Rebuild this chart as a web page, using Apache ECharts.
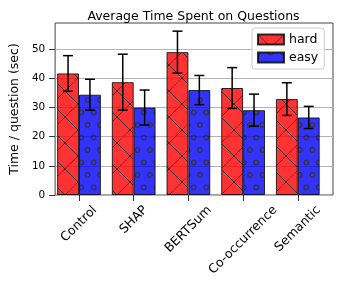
<!DOCTYPE html>
<html><head><meta charset="utf-8">
<script src="https://cdn.jsdelivr.net/npm/echarts@6/dist/echarts.min.js"></script>
<style>html,body{margin:0;padding:0;background:#fff}#c{width:340px;height:282px}</style>
</head><body><div id="c"></div>
<script>
const categories = ['Control', 'SHAP', 'BERTSum', 'Co-occurrence', 'Semantic'];
const hardMean = [41.7, 38.7, 49.0, 36.7, 32.9];
const hardErr  = [6.1, 9.6, 7.2, 7.0, 5.6];
const easyMean = [34.4, 30.0, 36.0, 29.1, 26.6];
const easyErr  = [5.3, 6.0, 5.0, 5.5, 3.8];
const yTicks = [0, 10, 20, 30, 40, 50];
const yMax = 59;

const FONT = '"DejaVu Sans", sans-serif';

function hatchX(fill) {
  const P = 26, c = document.createElement('canvas');
  c.width = P; c.height = P;
  const g = c.getContext('2d');
  g.fillStyle = fill; g.fillRect(0, 0, P, P);
  g.strokeStyle = '#000'; g.lineWidth = 1;
  g.beginPath();
  for (let k = -1; k <= 1; k++) {
    g.moveTo(k * P, 0); g.lineTo(k * P + P, P);
    g.moveTo(k * P, P); g.lineTo(k * P + P, 0);
  }
  g.stroke();
  return c;
}
function hatchO(fill) {
  const S = 25, c = document.createElement('canvas');
  c.width = S; c.height = S;
  const g = c.getContext('2d');
  g.fillStyle = fill; g.fillRect(0, 0, S, S);
  g.strokeStyle = '#000'; g.lineWidth = 1.3;
  const h = S / 2, q = S / 4;
  const pts = [[0, 0], [h, 0], [S, 0], [0, S], [h, S], [S, S], [q, h], [3 * q, h]];
  pts.forEach(p => { g.beginPath(); g.arc(p[0], p[1], 2.3, 0, Math.PI * 2); g.stroke(); });
  return c;
}

const mctx = document.createElement('canvas').getContext('2d');
mctx.font = '12.5px ' + FONT;

const chart = echarts.init(document.getElementById('c'), null, {renderer: 'canvas'});

function errItem(sign, errArr) {
  return function (params, api) {
    const i = params.dataIndex;
    const m = api.value(1), e = errArr[i];
    const band = api.size([1, 0])[0];
    const x = api.coord([i, m])[0] + sign * band * 0.2;
    const yHi = api.coord([i, m + e])[1];
    const yLo = api.coord([i, m - e])[1];
    const st = {stroke: '#000', lineWidth: 1.5};
    return {type: 'group', children: [
      {type: 'line', shape: {x1: x, y1: yHi, x2: x, y2: yLo}, style: st},
      {type: 'line', shape: {x1: x - 5, y1: yHi, x2: x + 5, y2: yHi}, style: st},
      {type: 'line', shape: {x1: x - 5, y1: yLo, x2: x + 5, y2: yLo}, style: st}
    ]};
  };
}

chart.setOption({
  animation: false,
  title: {
    text: 'Average Time Spent on Questions',
    left: 188.5, textAlign: 'center', top: 5,
    textStyle: {fontSize: 12.5, fontWeight: 'normal', fontFamily: FONT, color: '#000'}
  },
  legend: {
    data: ['hard', 'easy'], orient: 'vertical', left: 252, top: 28,
    itemWidth: 26, itemHeight: 10, itemGap: 5, icon: 'rect',
    textStyle: {fontSize: 12.5, fontFamily: FONT, color: '#000'},
    backgroundColor: 'rgba(255,255,255,0.8)', borderColor: '#cccccc', borderWidth: 1,
    borderRadius: 3, padding: [5, 6, 5, 5]
  },
  grid: [
    {left: 51.65, right: 14.85, top: 23, bottom: 87},
    {left: 44, right: 7, top: 23, bottom: 87, show: true, borderColor: '#444', borderWidth: 1, backgroundColor: 'transparent'}
  ],
  xAxis: [
    {type: 'category', gridIndex: 0, data: categories,
     axisLine: {show: false},
     axisTick: {show: true, alignWithLabel: true, length: 6, interval: 0, lineStyle: {color: '#333'}},
     axisLabel: {show: false}},
    {type: 'value', gridIndex: 1, show: false, min: 0, max: 1}
  ],
  yAxis: [
    {type: 'value', gridIndex: 0, show: false, min: 0, max: yMax},
    {type: 'value', gridIndex: 1, min: 0, max: yMax, interval: 10,
     name: 'Time / question (sec)', nameLocation: 'middle', nameGap: 25.5,
     nameTextStyle: {fontSize: 12.5, fontFamily: FONT, color: '#000'},
     axisLine: {show: false},
     axisTick: {show: true, length: 6, customValues: yTicks, lineStyle: {color: '#333'}},
     axisLabel: {customValues: yTicks, fontSize: 10.4, fontFamily: FONT, color: '#000', margin: 10},
     splitLine: {show: true, lineStyle: {color: '#b4b4b4', width: 1}}}
  ],
  series: [
    {name: 'hard', type: 'bar', xAxisIndex: 0, yAxisIndex: 0, data: hardMean,
     barWidth: '40%', barGap: '0%',
     itemStyle: {color: {image: hatchX('#ff0000'), repeat: 'repeat'}, borderColor: '#000', borderWidth: 1, opacity: 0.8},
     emphasis: {disabled: true}},
    {name: 'easy', type: 'bar', xAxisIndex: 0, yAxisIndex: 0, data: easyMean,
     barWidth: '40%', barGap: '0%',
     itemStyle: {color: {image: hatchO('#0000ff'), repeat: 'repeat'}, borderColor: '#000', borderWidth: 1, opacity: 0.8},
     emphasis: {disabled: true}},
    {type: 'custom', xAxisIndex: 0, yAxisIndex: 0, z: 10, clip: false, silent: true,
     data: hardMean.map((m, i) => [i, m]), renderItem: errItem(-1, hardErr)},
    {type: 'custom', xAxisIndex: 0, yAxisIndex: 0, z: 10, clip: false, silent: true,
     data: easyMean.map((m, i) => [i, m]), renderItem: errItem(1, easyErr)},
    {type: 'custom', xAxisIndex: 0, yAxisIndex: 0, z: 10, clip: false, silent: true,
     data: categories.map((c, i) => [i, 0]),
     renderItem: function (params, api) {
       const i = params.dataIndex;
       const txt = categories[i];
       const pt = api.coord([i, 0]);
       const L = mctx.measureText(txt).width;
       const Hb = (L + 14.5) / Math.SQRT2;
       return {type: 'text', x: pt[0], y: pt[1] + 8 + Hb / 2, rotation: Math.PI / 4,
         style: {text: txt, textAlign: 'center', textVerticalAlign: 'middle',
           font: '12.5px ' + FONT, fill: '#000'}};
     }}
  ]
});
</script>
</body></html>
